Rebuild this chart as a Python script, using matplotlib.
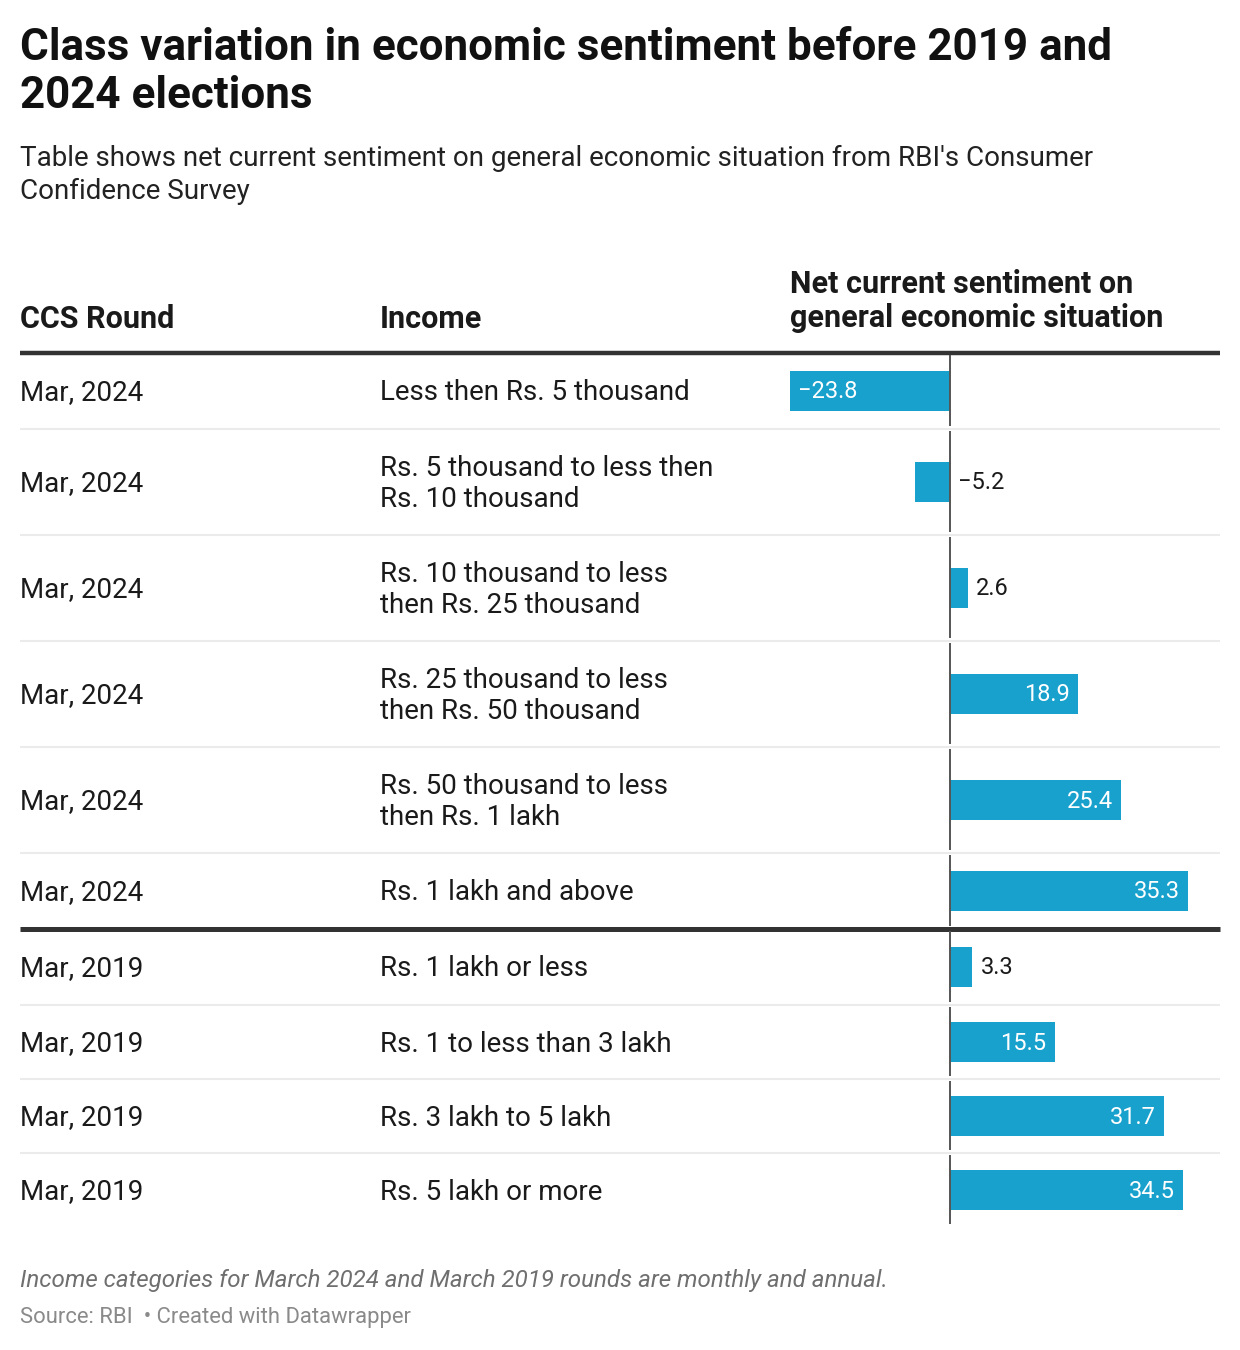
import numpy as np
import matplotlib.pyplot as plt

plt.rcParams['font.family'] = ['Roboto', 'DejaVu Sans']

# Table data
rounds = ['Mar, 2024'] * 6 + ['Mar, 2019'] * 4
incomes = [
    'Less then Rs. 5 thousand',
    'Rs. 5 thousand to less then\nRs. 10 thousand',
    'Rs. 10 thousand to less\nthen Rs. 25 thousand',
    'Rs. 25 thousand to less\nthen Rs. 50 thousand',
    'Rs. 50 thousand to less\nthen Rs. 1 lakh',
    'Rs. 1 lakh and above',
    'Rs. 1 lakh or less',
    'Rs. 1 to less than 3 lakh',
    'Rs. 3 lakh to 5 lakh',
    'Rs. 5 lakh or more',
]
sentiment = [-23.8, -5.2, 2.6, 18.9, 25.4, 35.3, 3.3, 15.5, 31.7, 34.5]

BAR = '#18a1cd'
INK = '#1a1a1a'

W, H = 1240, 1350
fig = plt.figure(figsize=(W / 100, H / 100), dpi=100)
ax = fig.add_axes([0, 0, 1, 1])
ax.set_xlim(0, W)
ax.set_ylim(H, 0)
ax.axis('off')

# title block
ax.text(20, 72, 'Class variation in economic sentiment before 2019 and\n2024 elections',
        fontsize=31.7, fontweight='bold', color='#111', va='center', linespacing=1.19)
ax.text(20, 175, "Table shows net current sentiment on general economic situation from RBI's Consumer\nConfidence Survey",
        fontsize=20, color='#222', va='center', linespacing=1.27)

# header
ax.text(20, 319, 'CCS Round', fontsize=22, fontweight='bold', color=INK, va='center')
ax.text(380, 319, 'Income', fontsize=22, fontweight='bold', color=INK, va='center')
ax.text(790, 301, 'Net current sentiment on\ngeneral economic situation', fontsize=22,
        fontweight='bold', color=INK, va='center', linespacing=1.17)

# row layout (pixels)
top = 353
row_h = [76, 106, 106, 106, 106, 76, 76, 74, 74, 74]
edges = top + np.concatenate([[0], np.cumsum(row_h)])
centers = (edges[:-1] + edges[1:]) / 2
bottom = edges[-1]

for i, (r, inc) in enumerate(zip(rounds, incomes)):
    ax.text(20, centers[i] + 2, r, fontsize=20, color=INK, va='center')
    ax.text(380, centers[i] + 2, inc, fontsize=20, color=INK, va='center', linespacing=1.17)

# rules
ax.plot([20, 1220], [top, top], color='#333', lw=3.2, solid_capstyle='butt')
for i, e in enumerate(edges[1:-1]):
    if i == 5:
        ax.plot([20, 1220], [e, e], color='#333', lw=3.6, solid_capstyle='butt', zorder=5)
    else:
        ax.plot([20, 1220], [e, e], color='#ebebeb', lw=1.5, solid_capstyle='butt')

# bar column
scale = 6.734  # pixels per unit
vmin = min(sentiment)
bx = fig.add_axes([790 / W, 1 - bottom / H, 430 / W, (bottom - top) / H])
bx.set_xlim(vmin, vmin + 430 / scale)
bx.set_ylim(bottom, top)
bx.axis('off')

bx.barh(centers, sentiment, height=40, color=BAR, zorder=2)
for i in range(len(sentiment)):
    bx.vlines(0, edges[i] + 2, edges[i + 1] - 3, color='#555', lw=1.4, zorder=4)

for c, v in zip(centers, sentiment):
    lab = f'{v:.1f}'.replace('-', '\u2212')
    if abs(v) >= 10:
        if v > 0:
            bx.annotate(lab, (v, c + 1), xytext=(-8, 0), textcoords='offset pixels',
                        ha='right', va='center', color='white', fontsize=17, zorder=5)
        else:
            bx.annotate(lab, (v, c + 1), xytext=(8, 0), textcoords='offset pixels',
                        ha='left', va='center', color='white', fontsize=17, zorder=5)
    else:
        bx.annotate(lab, (max(v, 0), c + 1), xytext=(8, 0), textcoords='offset pixels',
                    ha='left', va='center', color=INK, fontsize=17, zorder=5)

# footer
ax.text(20, 1281, 'Income categories for March 2024 and March 2019 rounds are monthly and annual.',
        fontsize=17.4, style='italic', color='#6f6f6f', va='center')
ax.text(20, 1317, 'Source: RBI  \u2022 Created with Datawrapper', fontsize=15.8,
        color='#8a8a8a', va='center')

fig.savefig('out.png', dpi=100, facecolor='white')
